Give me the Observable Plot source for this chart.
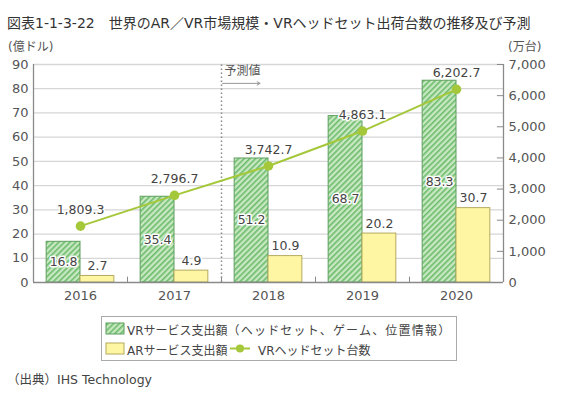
<!DOCTYPE html>
<html><head><meta charset="utf-8">
<script src="https://cdn.jsdelivr.net/npm/d3@7"></script>
<script src="https://cdn.jsdelivr.net/npm/@observablehq/plot@0.6"></script>
<style>
body{margin:0;background:#fff;font-family:"DejaVu Sans","Noto Sans CJK JP",sans-serif;color:#444;}
#wrap{position:relative;width:562px;height:396px;overflow:hidden;}
.abs{position:absolute;white-space:nowrap;}
#title{left:7px;top:12px;font-size:14px;color:#333;}
.unit{font-size:12px;color:#555;top:37px;}
#legend{left:101px;top:316px;width:354px;height:43px;border:1px solid #aaa;font-size:12px;color:#444;}
#caption{left:7px;top:369px;font-size:12.5px;color:#444;}
#chart{position:absolute;left:0;top:0;}
.wide{letter-spacing:1.2px;}
</style></head>
<body><div id="wrap">
<div id="chart"></div>
<div id="title" class="abs">図表1-1-3-22　世界のAR／VR市場規模・VRヘッドセット出荷台数の推移及び予測</div>
<div class="abs unit" style="left:8px">(億ドル)</div>
<div class="abs unit" style="left:508px">(万台)</div>
<div id="legend" class="abs">
  <svg width="354" height="43" style="position:absolute;left:0;top:0">
    <defs>
      <pattern id="hatchL" patternUnits="userSpaceOnUse" width="4" height="4" patternTransform="rotate(45)">
        <rect width="4" height="4" fill="#c8e8c2"/><rect width="1.6" height="4" fill="#6cbb6c"/>
      </pattern>
    </defs>
    <rect x="4" y="6" width="18" height="11" fill="url(#hatchL)" stroke="#5d9e5d"/>
    <rect x="4" y="26" width="18" height="11" fill="#fff6a3" stroke="#b3aa5e"/>
    <line x1="128" x2="148" y1="31.5" y2="31.5" stroke="#a5c83a" stroke-width="2"/>
    <circle cx="138" cy="31.5" r="4" fill="#a5c83a"/>
  </svg>
  <div class="abs" style="left:25px;top:4px">VRサービス支出額<span class="wide">（ヘッドセット、ゲーム、位置情報）</span></div>
  <div class="abs" style="left:25px;top:24px">ARサービス支出額</div>
  <div class="abs" style="left:156px;top:24px">VRヘッドセット台数</div>
</div>
<div id="caption" class="abs">（出典）IHS Technology</div>
</div>
<script>
const years = [2016, 2017, 2018, 2019, 2020];
const vrSpend = [16.8, 35.4, 51.2, 68.7, 83.3];
const arSpend = [2.7, 4.9, 10.9, 20.2, 30.7];
const vrHeadsets = [1809.3, 2796.7, 3742.7, 4863.1, 6202.7];
const leftTicks = [0, 10, 20, 30, 40, 50, 60, 70, 80, 90];
const rightTicks = [0, 1000, 2000, 3000, 4000, 5000, 6000, 7000];
const forecastLabel = "予測値";
const forecastStart = 2017.5;

const k = 90 / 7000;
const bw = 0.36;
const rows = years.map((y, i) => ({year: y, vr: vrSpend[i], ar: arSpend[i], hs: vrHeadsets[i] * k, hsRaw: vrHeadsets[i]}));
const fmt1 = d3.format(",.1f");
const boundaries = years.slice(1).map(y => y - 0.5);
const grey = "#8a8a8a";

const chart = Plot.plot({
  width: 562, height: 310,
  marginTop: 64, marginBottom: 28, marginLeft: 33, marginRight: 59,
  style: {fontFamily: "DejaVu Sans, Noto Sans CJK JP, sans-serif", fontSize: "13px", color: "#444", background: "transparent"},
  x: {domain: [years[0] - 0.5, years[years.length - 1] + 0.5]},
  y: {domain: [0, 90]},
  marks: [
    Plot.ruleY(leftTicks.slice(1), {stroke: "#d6d6d6", strokeWidth: 1.3}),
    Plot.ruleX([forecastStart], {y1: 0, y2: 90, stroke: "#888", strokeDasharray: "1.5,2.5", strokeWidth: 1.5}),
    Plot.text([forecastLabel], {x: forecastStart, y: 87.2, text: d => d, textAnchor: "start", dx: 3, fontSize: 12, fill: "#555", fontFamily: "Noto Sans CJK JP"}),
    Plot.arrow([0], {x1: forecastStart, x2: forecastStart + 0.41, y1: 82.2, y2: 82.2, stroke: "#999", strokeWidth: 1, headLength: 5, insetStart: 1}),
    Plot.rectY(rows, {x1: d => d.year - bw, x2: d => d.year, y1: 0, y2: "vr", fill: "url(#hatch)", stroke: "#5d9e5d", strokeWidth: 1}),
    Plot.rectY(rows, {x1: d => d.year, x2: d => d.year + bw, y1: 0, y2: "ar", fill: "#fff6a3", stroke: "#b3aa5e", strokeWidth: 1}),
    Plot.ruleX([years[0] - 0.5, years[years.length - 1] + 0.5], {y1: 0, y2: 90, stroke: grey, strokeWidth: 1.3}),
    Plot.ruleY([0], {stroke: grey, strokeWidth: 1.3}),
    Plot.ruleX(boundaries, {y1: 0, y2: 2.2, stroke: grey}),
    Plot.ruleY(rightTicks, {y: d => d * k, x1: years[years.length - 1] + 0.5, x2: years[years.length - 1] + 0.5 - 0.065, stroke: grey}),
    Plot.line(rows, {x: "year", y: "hs", stroke: "#a5c83a", strokeWidth: 2}),
    Plot.dot(rows, {x: "year", y: "hs", r: 4.8, fill: "#a5c83a"}),
    Plot.text(rows, {x: d => d.year - bw / 2, y: d => d.vr / 2, text: d => d.vr.toFixed(1), fontSize: 12.5, fill: "#444", stroke: "white", strokeWidth: 3}),
    Plot.text(rows, {x: d => d.year + bw / 2, y: "ar", text: d => d.ar.toFixed(1), dy: -10, fontSize: 12.5, fill: "#444", stroke: "white", strokeWidth: 3}),
    Plot.text(rows, {x: "year", y: "hs", text: d => fmt1(d.hsRaw), dy: -16, fontSize: 12.5, fill: "#444", stroke: "white", strokeWidth: 3}),
    Plot.axisY({anchor: "left", ticks: leftTicks, tickSize: 0, tickPadding: 5, label: null, fontSize: 13, fill: "#555"}),
    Plot.axisY({anchor: "right", ticks: rightTicks.map(d => d * k), tickFormat: d => d3.format(",")(Math.round(d / k)), tickSize: 0, tickPadding: 5, label: null, fontSize: 13, fill: "#555"}),
    Plot.axisX({ticks: years, tickFormat: d => String(d), tickSize: 0, tickPadding: 8, label: null, fontSize: 13, fill: "#555"})
  ]
});
const ns = "http://www.w3.org/2000/svg";
const defs = document.createElementNS(ns, "defs");
defs.innerHTML = '<pattern id="hatch" patternUnits="userSpaceOnUse" width="4" height="4" patternTransform="rotate(45)"><rect width="4" height="4" fill="#c8e8c2"/><rect width="1.6" height="4" fill="#6cbb6c"/></pattern>';
chart.insertBefore(defs, chart.firstChild);
document.getElementById("chart").appendChild(chart);
</script>
</body></html>
